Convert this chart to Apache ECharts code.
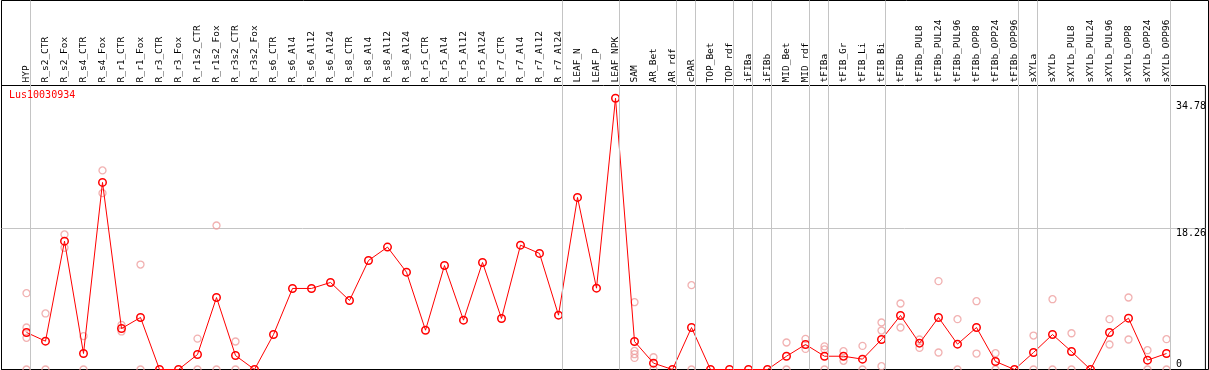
<!DOCTYPE html>
<html>
<head>
<meta charset="utf-8">
<script src="https://cdn.jsdelivr.net/npm/echarts@6/dist/echarts.min.js"></script>
<style>
html,body{margin:0;padding:0;background:#fff;}
#chart{width:1209px;height:370px;}
</style>
</head>
<body>
<div id="chart"></div>
<script>
// ---- data ----
const geneName = 'Lus10030934';
const categories = ['HYP','R_s2_CTR','R_s2_Fox','R_s4_CTR','R_s4_Fox','R_r1_CTR','R_r1_Fox','R_r3_CTR','R_r3_Fox','R_r1s2_CTR','R_r1s2_Fox','R_r3s2_CTR','R_r3s2_Fox','R_s6_CTR','R_s6_Al4','R_s6_Al12','R_s6_Al24','R_s8_CTR','R_s8_Al4','R_s8_Al12','R_s8_Al24','R_r5_CTR','R_r5_Al4','R_r5_Al12','R_r5_Al24','R_r7_CTR','R_r7_Al4','R_r7_Al12','R_r7_Al24','LEAF_N','LEAF_P','LEAF_NPK','SAM','AR_Bet','AR_rdf','cPAR','TOP_Bet','TOP_rdf','iFIBa','iFIBb','MID_Bet','MID_rdf','tFIBa','tFIB_Gr','tFIB_Li','tFIB_Bi','tFIBb','tFIBb_PUL8','tFIBb_PUL24','tFIBb_PUL96','tFIBb_OPP8','tFIBb_OPP24','tFIBb_OPP96','sXYLa','sXYLb','sXYLb_PUL8','sXYLb_PUL24','sXYLb_PUL96','sXYLb_OPP8','sXYLb_OPP24','sXYLb_OPP96'];
const means = [4.80,3.67,16.63,2.07,24.24,5.31,6.74,0,0,1.94,9.33,1.81,0,4.53,10.5,10.5,11.28,8.94,14.13,15.86,12.61,5.09,13.48,6.39,13.87,6.61,16.11,15.04,7.04,22.3,10.54,35.15,3.63,0.82,0,5.44,0,0,0,0,1.72,3.24,1.72,1.72,1.34,3.89,7.0,3.41,6.74,3.28,5.44,1.04,0,2.2,4.53,2.33,0,4.8,6.65,1.21,2.07];
const replicates = [
  [9.89,5.44,4.10,0],[7.26,0],[17.5,15.77],[4.32,0],[25.8,22.85],[5.78,4.93],[13.6,0],[],[],[4.0,0],
  [18.66,0],[3.63,0],[],[],[],[],[],[],[],[],
  [],[],[],[],[],[],[],[],[],[],
  [],[],[8.72,2.41,1.98,1.5],[1.59,0],[],[10.93,0],[],[],[],[],
  [3.5,0],[3.97,2.67],[3.0,2.6,0],[2.37,1.12],[3.06,0],[6.09,5.05,0.43],[8.55,5.44],[3.89,2.8],[11.45,2.2],[6.52,0],
  [8.85,2.07],[2.11,0],[],[4.4,0],[9.11,0],[4.7,0],[],[6.52,3.24],[9.33,3.89],[2.5,0],
  [3.93,0]
];
const yTickLabels = [18.26, 34.78];
const yZeroLabel = [0];
const yGridValues = [18.26];
const yMax = 36.8;
const separatorsAfter = [-1,0,28,31,34,35,37,38,39,41,42,45,52,53,60];

// ---- build ----
const FONT = 'DejaVu Sans Mono';
const scatterData = [];
replicates.forEach((arr, i) => arr.forEach(v => scatterData.push([categories[i], v])));
const lineData = means.map((v, i) => [categories[i], v]);

const chart = echarts.init(document.getElementById('chart'), null, {renderer: 'canvas'});
chart.setOption({
  animation: false,
  backgroundColor: '#fff',
  title: {
    text: geneName, left: 9, top: 90, padding: 0,
    textStyle: {color: '#ff0000', fontSize: 10, fontWeight: 'normal', fontFamily: FONT}
  },
  grid: [
    {left: 1.5, top: 0.5, width: 1207, height: 369, show: true, borderColor: '#000', borderWidth: 1, backgroundColor: 'transparent'},
    {left: 1.5, top: 85.5, width: 1207, height: 284, show: true, borderColor: '#000', borderWidth: 1, backgroundColor: 'transparent'},
    {left: 17, top: 85.5, width: 1159, height: 284, show: false},
    {left: 17, top: 0.5, width: 1159, height: 369, show: false}
  ],
  xAxis: [
    {gridIndex: 0, type: 'value', min: 0, max: 1, show: false},
    {gridIndex: 1, type: 'value', min: 0, max: 1, show: false},
    {gridIndex: 2, type: 'category', data: categories, position: 'top', boundaryGap: true,
      axisLine: {show: false}, axisTick: {show: false}, splitLine: {show: false},
      axisLabel: {interval: 0, rotate: 90, margin: 3, fontSize: 9.5, fontFamily: FONT, color: '#000'}},
    {gridIndex: 3, type: 'value', min: -0.5, max: categories.length - 0.5, show: false}
  ],
  yAxis: [
    {gridIndex: 0, type: 'value', min: 0, max: 1, show: false},
    {gridIndex: 1, type: 'value', min: 0, max: yMax, position: 'right',
      axisLine: {show: false},
      axisTick: {show: false, customValues: yGridValues},
      splitLine: {show: true, lineStyle: {color: '#c4c4c4', width: 1}},
      axisLabel: {inside: true, align: 'left', verticalAlign: 'top', margin: 29.5, customValues: yTickLabels,
        fontSize: 10, fontFamily: FONT, color: '#000', formatter: v => String(v)}},
    {gridIndex: 1, type: 'value', min: 0, max: yMax, position: 'right',
      axisLine: {show: false}, axisTick: {show: false}, splitLine: {show: false},
      axisLabel: {inside: true, align: 'left', verticalAlign: 'bottom', margin: 29.5, customValues: yZeroLabel,
        fontSize: 10, fontFamily: FONT, color: '#000', formatter: v => String(v)}},
    {gridIndex: 2, type: 'value', min: 0, max: yMax, show: false},
    {gridIndex: 3, type: 'value', min: 0, max: 1, show: false}
  ],
  series: [
    {
      type: 'line', xAxisIndex: 3, yAxisIndex: 4, data: [], silent: true,
      markLine: {
        silent: true, symbol: 'none', animation: false,
        label: {show: false},
        lineStyle: {color: '#c4c4c4', width: 1, type: 'solid'},
        data: separatorsAfter.map(i => ({xAxis: i + 4 / 19}))
      }
    },
    {
      type: 'scatter', xAxisIndex: 2, yAxisIndex: 3, data: scatterData, clip: false,
      symbol: 'circle', symbolSize: 7,
      itemStyle: {color: 'rgba(0,0,0,0)', borderColor: '#ee9e9e', borderWidth: 1.3},
      z: 3
    },
    {
      type: 'line', xAxisIndex: 2, yAxisIndex: 3, data: lineData,
      symbol: 'circle', symbolSize: 7.5, showAllSymbol: true,
      lineStyle: {color: '#ff0000', width: 1},
      itemStyle: {color: 'rgba(0,0,0,0)', borderColor: '#ff0000', borderWidth: 1.5},
      z: 4
    }
  ]
});
</script>
</body>
</html>
